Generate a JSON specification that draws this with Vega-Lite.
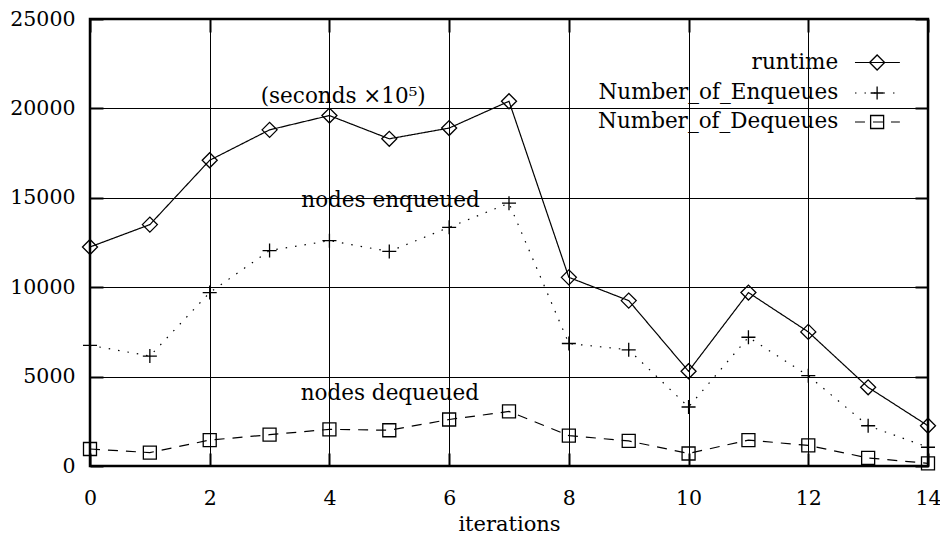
{
  "$schema": "https://vega.github.io/schema/vega-lite/v6.json",
  "autosize": "none",
  "width": 838,
  "height": 447,
  "padding": {"left": 90, "top": 19, "right": 12, "bottom": 69},
  "background": "white",
  "config": {
    "view": {"stroke": "black", "strokeWidth": 2.5},
    "font": "DejaVu Serif",
    "axis": {
      "labelFont": "DejaVu Serif",
      "labelFontSize": 20.5,
      "labelColor": "black",
      "titleFont": "DejaVu Serif",
      "titleFontSize": 21,
      "titleFontWeight": "normal",
      "titleColor": "black",
      "gridColor": "black",
      "gridWidth": 1,
      "gridOpacity": 1,
      "domain": false,
      "ticks": true,
      "tickSize": -13,
      "tickWidth": 2,
      "tickColor": "black"
    }
  },
  "resolve": {"axis": {"x": "independent", "y": "independent"}},
  "datasets": {
    "series": [
      {"iter": 0, "series": "runtime", "value": 12250},
      {"iter": 1, "series": "runtime", "value": 13500},
      {"iter": 2, "series": "runtime", "value": 17100},
      {"iter": 3, "series": "runtime", "value": 18800},
      {"iter": 4, "series": "runtime", "value": 19600},
      {"iter": 5, "series": "runtime", "value": 18300},
      {"iter": 6, "series": "runtime", "value": 18900},
      {"iter": 7, "series": "runtime", "value": 20400},
      {"iter": 8, "series": "runtime", "value": 10550},
      {"iter": 9, "series": "runtime", "value": 9250},
      {"iter": 10, "series": "runtime", "value": 5300},
      {"iter": 11, "series": "runtime", "value": 9700},
      {"iter": 12, "series": "runtime", "value": 7500},
      {"iter": 13, "series": "runtime", "value": 4400},
      {"iter": 14, "series": "runtime", "value": 2250},
      {"iter": 0, "series": "Number_of_Enqueues", "value": 6750},
      {"iter": 1, "series": "Number_of_Enqueues", "value": 6150},
      {"iter": 2, "series": "Number_of_Enqueues", "value": 9700},
      {"iter": 3, "series": "Number_of_Enqueues", "value": 12050},
      {"iter": 4, "series": "Number_of_Enqueues", "value": 12600},
      {"iter": 5, "series": "Number_of_Enqueues", "value": 12000},
      {"iter": 6, "series": "Number_of_Enqueues", "value": 13350},
      {"iter": 7, "series": "Number_of_Enqueues", "value": 14700},
      {"iter": 8, "series": "Number_of_Enqueues", "value": 6850},
      {"iter": 9, "series": "Number_of_Enqueues", "value": 6500},
      {"iter": 10, "series": "Number_of_Enqueues", "value": 3300},
      {"iter": 11, "series": "Number_of_Enqueues", "value": 7200},
      {"iter": 12, "series": "Number_of_Enqueues", "value": 5050},
      {"iter": 13, "series": "Number_of_Enqueues", "value": 2250},
      {"iter": 14, "series": "Number_of_Enqueues", "value": 1050},
      {"iter": 0, "series": "Number_of_Dequeues", "value": 950},
      {"iter": 1, "series": "Number_of_Dequeues", "value": 750},
      {"iter": 2, "series": "Number_of_Dequeues", "value": 1450},
      {"iter": 3, "series": "Number_of_Dequeues", "value": 1750},
      {"iter": 4, "series": "Number_of_Dequeues", "value": 2050},
      {"iter": 5, "series": "Number_of_Dequeues", "value": 2000},
      {"iter": 6, "series": "Number_of_Dequeues", "value": 2600},
      {"iter": 7, "series": "Number_of_Dequeues", "value": 3050},
      {"iter": 8, "series": "Number_of_Dequeues", "value": 1700},
      {"iter": 9, "series": "Number_of_Dequeues", "value": 1400},
      {"iter": 10, "series": "Number_of_Dequeues", "value": 700},
      {"iter": 11, "series": "Number_of_Dequeues", "value": 1450},
      {"iter": 12, "series": "Number_of_Dequeues", "value": 1150},
      {"iter": 13, "series": "Number_of_Dequeues", "value": 450},
      {"iter": 14, "series": "Number_of_Dequeues", "value": 150}
    ],
    "one": [{"n": 1}]
  },
  "layer": [
    {
      "data": {"name": "series"},
      "mark": {"type": "line", "color": "black", "strokeWidth": 1.2},
      "encoding": {
        "x": {
          "field": "iter", "type": "quantitative",
          "scale": {"domain": [0, 14], "nice": false},
          "axis": {"orient": "bottom", "values": [0, 2, 4, 6, 8, 10, 12, 14], "format": "d", "title": "iterations", "labelPadding": 35, "titleBaseline": "alphabetic", "titleY": 64, "labelFlush": false}
        },
        "y": {
          "field": "value", "type": "quantitative",
          "scale": {"domain": [0, 25000], "nice": false},
          "axis": {"orient": "left", "values": [0, 5000, 10000, 15000, 20000, 25000], "title": null, "labelPadding": 28, "format": "d", "labelFlush": false}
        },
        "detail": {"field": "series"},
        "strokeDash": {
          "field": "series", "type": "nominal",
          "scale": {"domain": ["runtime", "Number_of_Enqueues", "Number_of_Dequeues"], "range": [[1, 0], [1.5, 8], [10, 8]]},
          "legend": null
        }
      }
    },
    {
      "data": {"name": "series"},
      "mark": {"type": "point", "filled": false, "color": "black", "strokeWidth": 1.3, "opacity": 1},
      "encoding": {
        "x": {"field": "iter", "type": "quantitative", "axis": {"orient": "top", "values": [0, 2, 4, 6, 8, 10, 12, 14], "labels": false, "grid": false, "title": null}},
        "y": {"field": "value", "type": "quantitative", "axis": {"orient": "right", "values": [0, 5000, 10000, 15000, 20000, 25000], "labels": false, "grid": false, "title": null}},
        "shape": {
          "field": "series", "type": "nominal",
          "scale": {"domain": ["runtime", "Number_of_Enqueues", "Number_of_Dequeues"], "range": ["diamond", "M-1,0H1M0,-1V1", "square"]},
          "legend": null
        },
        "size": {
          "field": "series", "type": "nominal",
          "scale": {"domain": ["runtime", "Number_of_Enqueues", "Number_of_Dequeues"], "range": [225, 169, 169]},
          "legend": null
        }
      }
    },
    {
      "data": {"name": "one"},
      "mark": {"type": "text", "font": "DejaVu Serif", "fontSize": 21.5, "color": "black", "align": "center", "baseline": "alphabetic"},
      "encoding": {"x": {"datum": 4.23, "axis": null}, "y": {"datum": 20300, "axis": null}, "text": {"value": "(seconds ×10⁵)"}}
    },
    {
      "data": {"name": "one"},
      "mark": {"type": "text", "font": "DejaVu Serif", "fontSize": 21.5, "color": "black", "align": "center", "baseline": "alphabetic"},
      "encoding": {"x": {"datum": 5.02, "axis": null}, "y": {"datum": 14480, "axis": null}, "text": {"value": "nodes enqueued"}}
    },
    {
      "data": {"name": "one"},
      "mark": {"type": "text", "font": "DejaVu Serif", "fontSize": 21.5, "color": "black", "align": "center", "baseline": "alphabetic"},
      "encoding": {"x": {"datum": 5.01, "axis": null}, "y": {"datum": 3690, "axis": null}, "text": {"value": "nodes dequeued"}}
    },
    {
      "data": {"name": "one"},
      "mark": {"type": "text", "font": "DejaVu Serif", "fontSize": 21.5, "color": "black", "align": "right", "baseline": "middle"},
      "encoding": {"x": {"datum": 12.5, "axis": null}, "y": {"datum": 22567, "axis": null}, "text": {"value": "runtime"}}
    },
    {
      "data": {"name": "one"},
      "mark": {"type": "text", "font": "DejaVu Serif", "fontSize": 21.5, "color": "black", "align": "right", "baseline": "middle"},
      "encoding": {"x": {"datum": 12.5, "axis": null}, "y": {"datum": 20861, "axis": null}, "text": {"value": "Number_of_Enqueues"}}
    },
    {
      "data": {"name": "one"},
      "mark": {"type": "text", "font": "DejaVu Serif", "fontSize": 21.5, "color": "black", "align": "right", "baseline": "middle"},
      "encoding": {"x": {"datum": 12.5, "axis": null}, "y": {"datum": 19239, "axis": null}, "text": {"value": "Number_of_Dequeues"}}
    },
    {
      "data": {"name": "one"},
      "mark": {"type": "rule", "color": "black", "strokeWidth": 1.2},
      "encoding": {"x": {"datum": 12.78, "axis": null}, "x2": {"datum": 13.53}, "y": {"datum": 22567, "axis": null}}
    },
    {
      "data": {"name": "one"},
      "mark": {"type": "rule", "color": "black", "strokeWidth": 1.2, "strokeDash": [1.5, 8]},
      "encoding": {"x": {"datum": 12.78, "axis": null}, "x2": {"datum": 13.53}, "y": {"datum": 20861, "axis": null}}
    },
    {
      "data": {"name": "one"},
      "mark": {"type": "rule", "color": "black", "strokeWidth": 1.2, "strokeDash": [10, 8]},
      "encoding": {"x": {"datum": 12.78, "axis": null}, "x2": {"datum": 13.53}, "y": {"datum": 19239, "axis": null}}
    },
    {
      "data": {"name": "one"},
      "mark": {"type": "point", "shape": "diamond", "size": 225, "filled": false, "color": "black", "strokeWidth": 1.3, "opacity": 1},
      "encoding": {"x": {"datum": 13.15, "axis": null}, "y": {"datum": 22567, "axis": null}}
    },
    {
      "data": {"name": "one"},
      "mark": {"type": "point", "shape": "M-1,0H1M0,-1V1", "size": 169, "filled": false, "color": "black", "strokeWidth": 1.3, "opacity": 1},
      "encoding": {"x": {"datum": 13.15, "axis": null}, "y": {"datum": 20861, "axis": null}}
    },
    {
      "data": {"name": "one"},
      "mark": {"type": "point", "shape": "square", "size": 169, "filled": false, "color": "black", "strokeWidth": 1.3, "opacity": 1},
      "encoding": {"x": {"datum": 13.15, "axis": null}, "y": {"datum": 19239, "axis": null}}
    }
  ]
}
